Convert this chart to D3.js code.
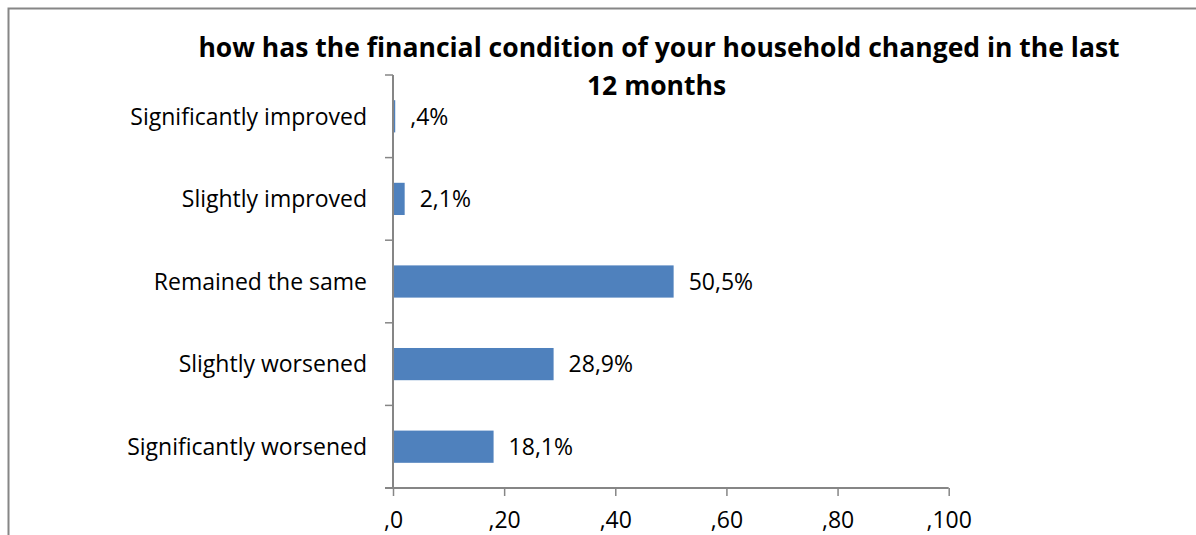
<!DOCTYPE html>
<html>
<head>
<meta charset="utf-8">
<script src="https://cdn.jsdelivr.net/npm/d3@7/dist/d3.min.js"></script>
<style>
  html, body { margin: 0; padding: 0; background: #fff; }
  svg { display: block; }
  text { font-family: "Open Sans", sans-serif; fill: #000; }
</style>
</head>
<body>
<svg id="chart" width="1196" height="535"></svg>
<script>
// Survey answers, top to bottom
const categories = [
  "Significantly improved",
  "Slightly improved",
  "Remained the same",
  "Slightly worsened",
  "Significantly worsened"
];
// Share of households, percent
const values = [0.4, 2.1, 50.5, 28.9, 18.1];
const valueLabels = [",4%", "2,1%", "50,5%", "28,9%", "18,1%"];
// Horizontal axis
const xTicks = [0, 20, 40, 60, 80, 100];
const xTickLabels = [",0", ",20", ",40", ",60", ",80", ",100"];
const titleLines = [
  "how has the financial condition of your household changed in the last",
  "12 months"
];

const svg = d3.select("#chart");
const W = 1196, H = 535;
const axisColor = "#868686";
const barColor = "#4f81bd";
const labelSize = 23;

// Chart area frame
svg.append("path")
  .attr("d", `M8.5,${H + 5} V8.5 H${W + 5}`)
  .attr("fill", "none")
  .attr("stroke", axisColor)
  .attr("stroke-width", 2);

const plot = { left: 393, right: 948.7, top: 75, bottom: 488 };

const x = d3.scaleLinear().domain([0, 100]).range([plot.left, plot.right]);
const y = d3.scaleBand().domain(categories).range([plot.top, plot.bottom])
  .paddingInner(0.61).paddingOuter(0.305);

// Title
svg.append("g").selectAll("text").data(titleLines).join("text")
  .attr("x", (d, i) => i === 0 ? 659 : 656.5)
  .attr("y", (d, i) => i === 0 ? 57 : 95)
  .attr("text-anchor", "middle")
  .attr("font-size", 26.5)
  .attr("font-weight", "bold")
  .text(d => d);

// Bars
svg.append("g").selectAll("rect").data(values).join("rect")
  .attr("x", x(0))
  .attr("y", (d, i) => y(categories[i]))
  .attr("width", d => x(d) - x(0))
  .attr("height", y.bandwidth())
  .attr("fill", barColor);

// Value labels
svg.append("g").selectAll("text").data(values).join("text")
  .attr("x", d => x(d) + 15)
  .attr("y", (d, i) => y(categories[i]) + y.bandwidth() / 2)
  .attr("dy", "0.36em")
  .attr("font-size", labelSize)
  .text((d, i) => valueLabels[i]);

// Category axis: ticks on band boundaries
const yAxisG = svg.append("g").attr("class", "y-axis");
yAxisG.append("line")
  .attr("x1", plot.left).attr("x2", plot.left)
  .attr("y1", plot.top).attr("y2", plot.bottom)
  .attr("stroke", axisColor).attr("stroke-width", 2);
const boundaries = d3.range(categories.length + 1)
  .map(i => plot.top + i * (plot.bottom - plot.top) / categories.length);
yAxisG.selectAll("line.tick").data(boundaries).join("line")
  .attr("class", "tick")
  .attr("x1", plot.left - 8).attr("x2", plot.left)
  .attr("y1", d => d).attr("y2", d => d)
  .attr("stroke", axisColor).attr("stroke-width", 1.5);
yAxisG.selectAll("text").data(categories).join("text")
  .attr("x", 367)
  .attr("y", d => y(d) + y.bandwidth() / 2)
  .attr("dy", "0.36em")
  .attr("text-anchor", "end")
  .attr("font-size", labelSize)
  .text(d => d);

// Value axis
const xAxis = d3.axisBottom(x)
  .tickValues(xTicks)
  .tickSize(8)
  .tickFormat((d, i) => xTickLabels[i]);
const xAxisG = svg.append("g")
  .attr("transform", `translate(0,${plot.bottom})`)
  .call(xAxis);
xAxisG.select(".domain")
  .attr("d", `M${plot.left - 8},0H${plot.right}`)
  .attr("stroke", axisColor).attr("stroke-width", 2);
xAxisG.selectAll(".tick line").attr("stroke", axisColor).attr("stroke-width", 1.5);
xAxisG.selectAll(".tick text")
  .attr("y", 40)
  .attr("dy", 0)
  .attr("font-size", labelSize)
  .attr("font-family", "'Open Sans', sans-serif")
  .attr("fill", "#000");
</script>
</body>
</html>
